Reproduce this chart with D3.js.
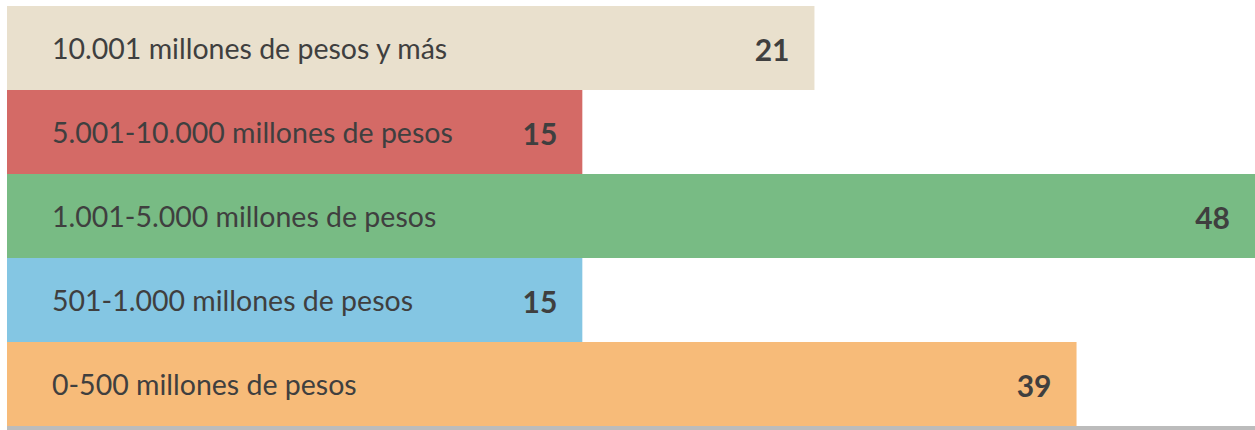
<!DOCTYPE html>
<html>
<head>
<meta charset="utf-8">
<script src="https://cdn.jsdelivr.net/npm/d3@7"></script>
<style>
  body { margin: 0; background: #fff; }
  svg { display: block; }
  .cat { font-family: Lato, "Noto Sans", sans-serif; fill: #3f3f3f; }
  .val { font-family: Lato, "Noto Sans", sans-serif; font-weight: 700; fill: #3f3f3f; }
</style>
</head>
<body>
<div id="chart"></div>
<script>
var categories = ['10.001 millones de pesos y más', '5.001-10.000 millones de pesos',
                  '1.001-5.000 millones de pesos', '501-1.000 millones de pesos', '0-500 millones de pesos'],
    values = [21, 15, 48, 15, 39],
    // bar lengths in the source are not proportional to the labels; read as % of the longest bar
    barShare = [64.7, 46.1, 100, 46.1, 85.7],
    colors = ['#e9e0cd', '#d46a66', '#78bb84', '#84c6e3', '#f7bb79'];

var width = 1255, height = 430,
    margin = {top: 6, right: 0, bottom: 4, left: 7};

var svg = d3.select('#chart').append('svg')
    .attr('width', width)
    .attr('height', height);

var x = d3.scaleLinear().domain([0, 100]).range([margin.left, width - margin.right]);
var y = d3.scaleBand().domain(d3.range(categories.length))
    .range([margin.top, height - margin.bottom]).padding(0);

var data = categories.map((c, i) => ({cat: c, value: values[i], share: barShare[i], color: colors[i]}));

var rows = svg.selectAll('g.row').data(data).enter()
  .append('g').attr('class', 'row');

rows.append('rect')
    .attr('x', x(0))
    .attr('y', (d, i) => y(i))
    .attr('width', d => x(d.share) - x(0))
    .attr('height', y.bandwidth())
    .style('fill', d => d.color);

rows.append('text')
    .attr('class', 'cat')
    .attr('x', x(0) + 45)
    .attr('y', (d, i) => y(i) + y.bandwidth() / 2)
    .attr('dy', '0.4em')
    .style('font-size', '28.5px')
    .text(d => d.cat);

rows.append('text')
    .attr('class', 'val')
    .attr('x', d => x(d.share) - 25)
    .attr('y', (d, i) => y(i) + y.bandwidth() / 2)
    .attr('dy', '0.42em')
    .attr('text-anchor', 'end')
    .style('font-size', '30px')
    .text(d => d.value);

// bottom rule
svg.append('rect')
    .attr('x', x(0))
    .attr('y', height - margin.bottom)
    .attr('width', width - x(0))
    .attr('height', margin.bottom)
    .style('fill', '#bcbcbc');
</script>
</body>
</html>
